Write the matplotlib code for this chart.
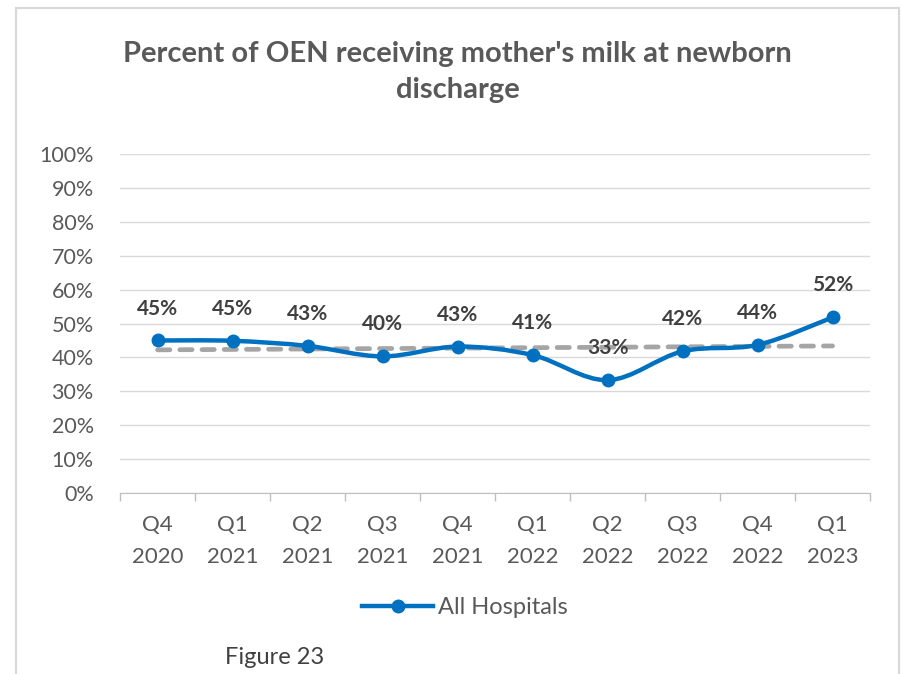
import numpy as np
import matplotlib
matplotlib.use("Agg")
import matplotlib.pyplot as plt
from matplotlib.path import Path
from matplotlib.patches import PathPatch, Rectangle
from matplotlib.lines import Line2D

plt.rcParams['font.family'] = ['Lato', 'DejaVu Sans']

quarters = ["Q4\n2020", "Q1\n2021", "Q2\n2021", "Q3\n2021", "Q4\n2021",
            "Q1\n2022", "Q2\n2022", "Q3\n2022", "Q4\n2022", "Q1\n2023"]
pct = [45.0, 44.9, 43.4, 40.3, 43.2, 40.7, 33.3, 41.8, 43.7, 51.8]
labels = ["45%", "45%", "43%", "40%", "43%", "41%", "33%", "42%", "44%", "52%"]
yticks = list(range(0, 101, 10))

blue = "#0070C0"
grey_txt = "#595959"

fig = plt.figure(figsize=(9.03, 6.74), dpi=100)
ax = fig.add_axes([0.133, 0.2685, 0.8305, 0.503])

x = np.arange(len(pct))
y = np.array(pct)

# linear trendline, like excel
k, b = np.polyfit(x, y, 1)
ax.plot([x[0], x[-1]], [k * x[0] + b, k * x[-1] + b], color="#A5A5A5",
        lw=3.4, dashes=(2.6, 2.1), zorder=2, solid_capstyle="round",
        dash_capstyle="round")

# smoothed line (catmull-rom bezier like excel)
pts = np.column_stack([x, y])
verts = [pts[0]]
codes = [Path.MOVETO]
for i in range(len(pts) - 1):
    p0 = pts[i - 1] if i > 0 else pts[i]
    p1 = pts[i]
    p2 = pts[i + 1]
    p3 = pts[i + 2] if i + 2 < len(pts) else pts[i + 1]
    verts += [p1 + (p2 - p0) / 6, p2 - (p3 - p1) / 6, p2]
    codes += [Path.CURVE4] * 3
ax.add_patch(PathPatch(Path(verts, codes), fill=False, edgecolor=blue,
                       lw=3.2, zorder=3, capstyle="round"))
ax.plot(x, y, "o", color=blue, ms=9, zorder=4)

for xi, yi, t in zip(x, y, labels):
    ax.annotate(t, (xi, yi), xytext=(0, 23), textcoords="offset points",
                ha="center", va="center", fontsize=15, fontweight="bold",
                color="#404040", zorder=5)

ax.set_xlim(-0.5, len(pct) - 0.5)
ax.set_ylim(0, 100)
ax.set_yticks(yticks)
ax.set_yticklabels([f"{v}%" for v in yticks])
ax.set_xticks(x)
ax.set_xticklabels(quarters, linespacing=1.72)
ax.set_xticks(np.arange(-0.5, len(pct), 1), minor=True)
ax.tick_params(axis="x", which="major", length=0, pad=16, labelsize=16,
               labelcolor=grey_txt)
ax.tick_params(axis="x", which="minor", length=6, color="#BFBFBF", width=1)
ax.tick_params(axis="y", length=0, pad=19, labelsize=15.5, labelcolor=grey_txt)
ax.grid(axis="y", color="#D9D9D9", lw=1)
ax.set_axisbelow(True)
for s in ["top", "right", "left"]:
    ax.spines[s].set_visible(False)
ax.spines["bottom"].set_color("#BFBFBF")

fig.suptitle("Percent of OEN receiving mother's milk at newborn\ndischarge",
             x=0.507, y=0.893, va="center", fontsize=21, fontweight="bold",
             color=grey_txt, linespacing=1.5)

handle = Line2D([], [], color=blue, lw=3.2, marker="o", ms=9)
fig.legend([handle], ["All Hospitals"], loc="center", bbox_to_anchor=(0.515, 0.098),
           frameon=False, fontsize=17, handlelength=3.0, handletextpad=0.2,
           labelcolor=grey_txt)

fig.text(0.249, 0.025, "Figure 23", fontsize=17, color="#404040", va="center")

fig.patches.append(Rectangle((0.0177, -0.05), 0.978, 1.038, transform=fig.transFigure,
                             fill=False, edgecolor="#D9D9D9", lw=1.6))

fig.savefig("out.png", dpi=100)
